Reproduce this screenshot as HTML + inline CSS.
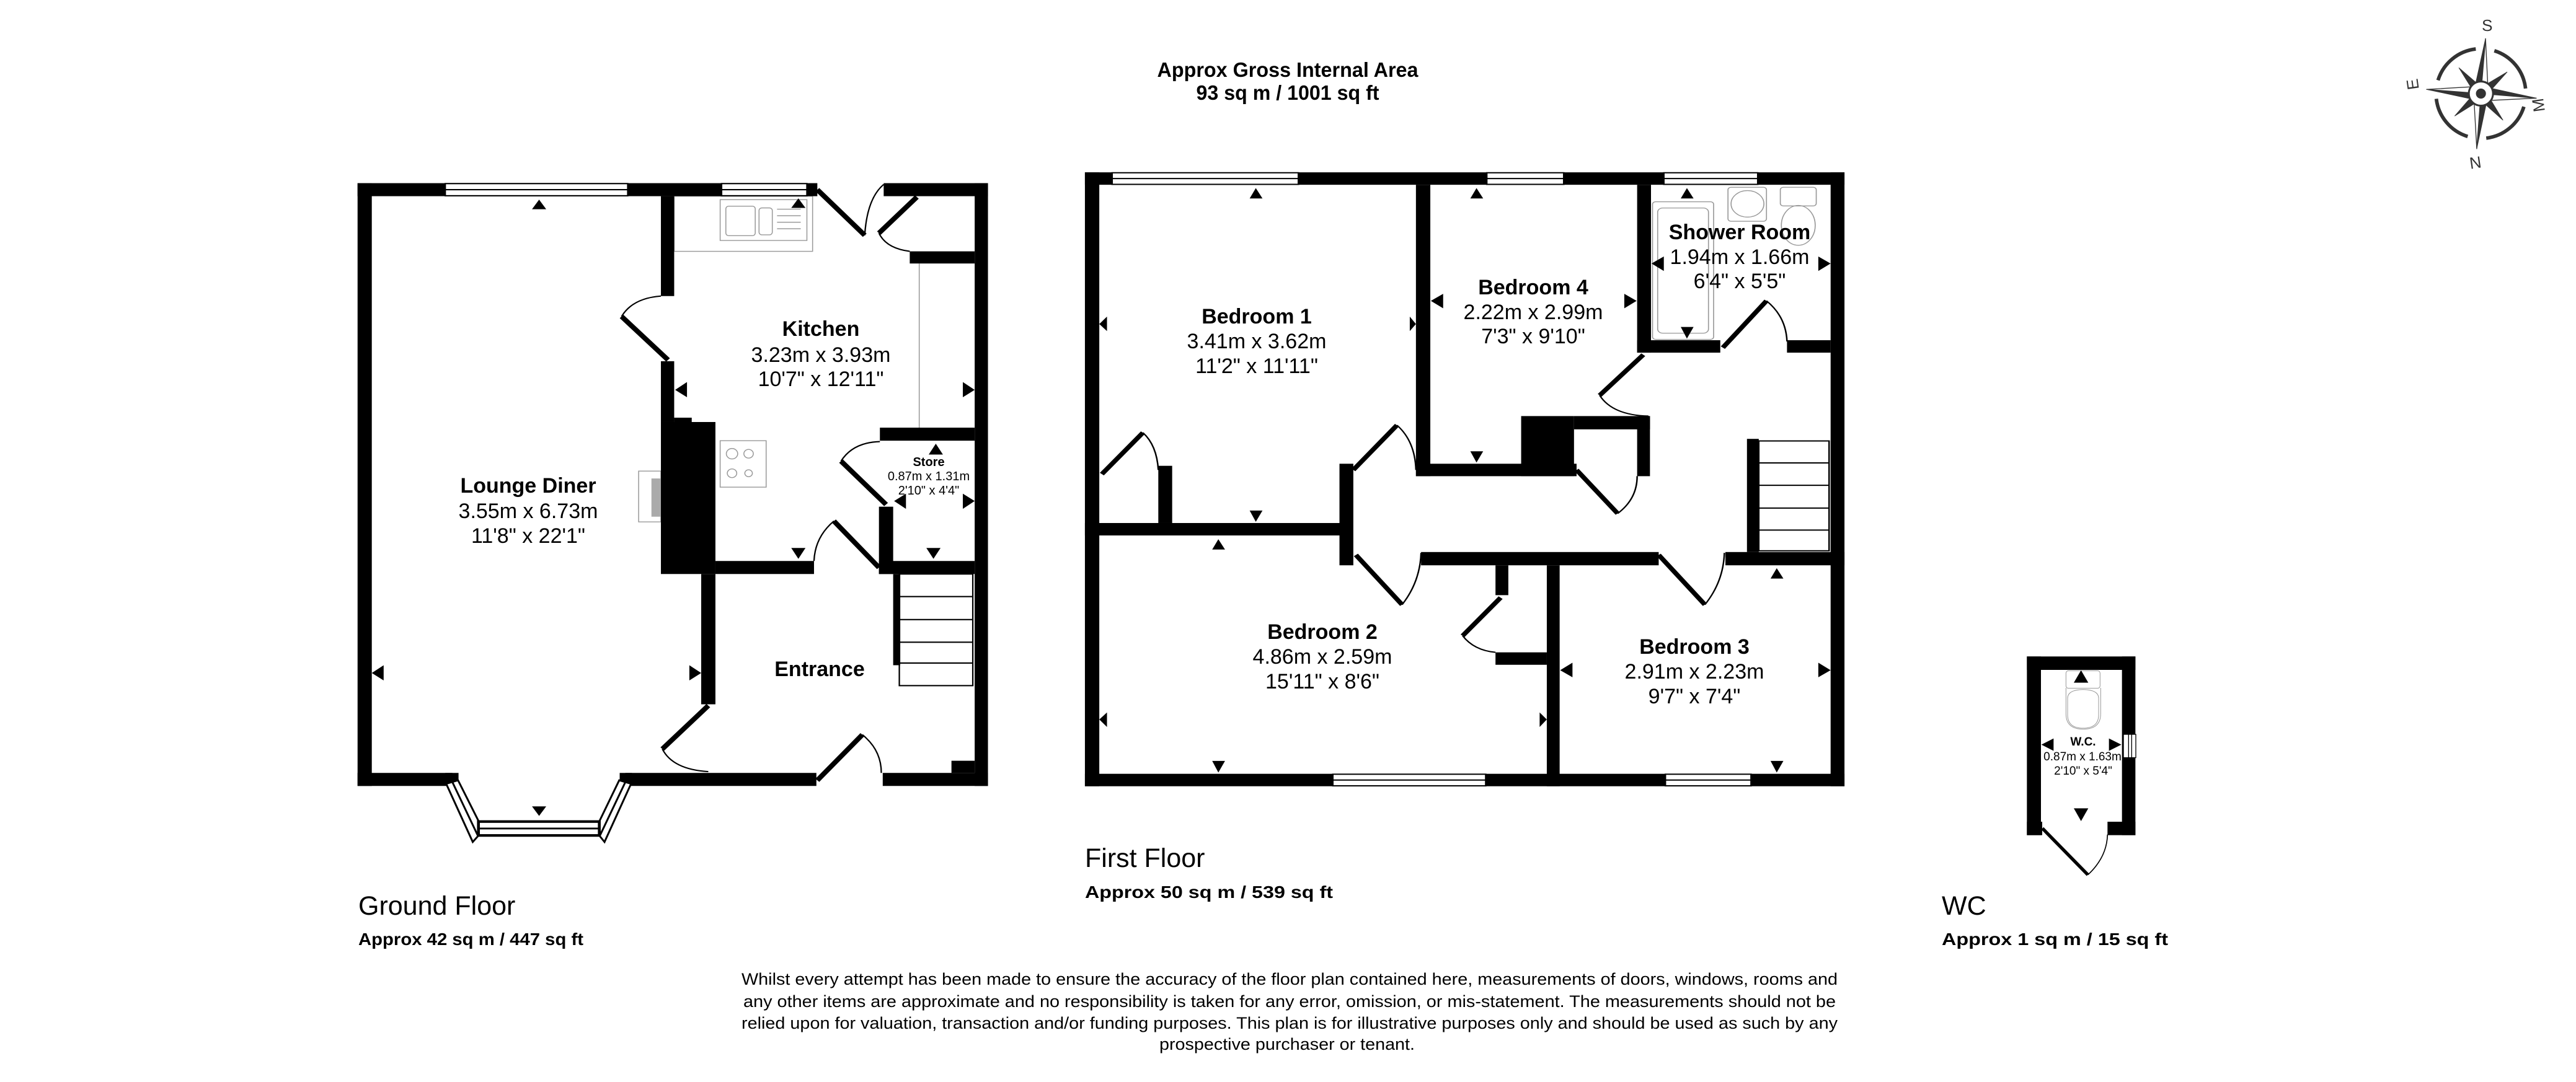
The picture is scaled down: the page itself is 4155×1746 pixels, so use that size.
<!DOCTYPE html>
<html><head><meta charset="utf-8"><style>
html,body{margin:0;padding:0;background:#fff;}
svg{display:block;}
text{font-family:"Liberation Sans",Arial,sans-serif;fill:#000;}
.b{font-weight:bold;}
</style></head><body>
<svg width="4155" height="1746" viewBox="0 0 4155 1746" xmlns="http://www.w3.org/2000/svg">
<rect width="4155" height="1746" fill="#fff"/>

<!-- GROUND FLOOR (zoom1 coords) -->
<g transform="translate(550,250) scale(0.7645,0.7008)">
 <!-- fixtures -->
 <g fill="none" stroke="#999" stroke-width="2">
  <rect x="703" y="95" width="292" height="127"/>
  <line x1="1220" y1="250" x2="1220" y2="628"/>
  <rect x="800" y="103" width="183" height="94"/>
  <rect x="812" y="118" width="62" height="68" rx="6"/>
  <rect x="882" y="122" width="28" height="62" rx="6"/>
  <line x1="920" y1="125" x2="970" y2="125"/><line x1="920" y1="140" x2="970" y2="140"/><line x1="920" y1="155" x2="970" y2="155"/><line x1="920" y1="170" x2="970" y2="170"/>
  <rect x="800" y="658" width="97" height="107"/>
  <circle cx="825" cy="688" r="12"/><circle cx="860" cy="688" r="10"/><circle cx="825" cy="733" r="10"/><circle cx="860" cy="733" r="8"/>
  <rect x="628" y="728" width="47" height="117"/>
 </g>
 <rect x="655" y="745" width="20" height="88" fill="#aaa"/>
 <!-- walls -->
 <g fill="#000">
  <rect x="35" y="65" width="185" height="30"/>
  <rect x="605" y="65" width="198" height="30"/>
  <rect x="983" y="65" width="22" height="30"/>
  <rect x="1145" y="65" width="220" height="30"/>
  <rect x="35" y="65" width="30" height="1388"/>
  <rect x="1337" y="65" width="28" height="1388"/>
  <rect x="35" y="1423" width="200" height="30"/>
  <rect x="600" y="1423" width="403" height="30"/>
  <rect x="1143" y="1423" width="222" height="30"/>
  <rect x="1288" y="1395" width="49" height="28"/>
  <rect x="675" y="95" width="28" height="230"/>
  <rect x="675" y="475" width="28" height="140"/>
  <rect x="675" y="615" width="115" height="350"/>
  <rect x="703" y="605" width="37" height="12"/>
  <rect x="760" y="965" width="30" height="300"/>
  <rect x="790" y="935" width="208" height="30"/>
  <rect x="1135" y="810" width="30" height="155"/>
  <rect x="1135" y="935" width="202" height="30"/>
  <rect x="1137" y="628" width="200" height="30"/>
  <rect x="1200" y="222" width="137" height="28"/>
  <rect x="1165" y="965" width="15" height="210"/>
 </g>
 <!-- windows -->
 <g fill="#fff" stroke="#000" stroke-width="3">
  <rect x="220" y="66" width="385" height="28"/><line x1="220" y1="80" x2="605" y2="80"/>
  <rect x="803" y="66" width="180" height="28"/><line x1="803" y1="80" x2="983" y2="80"/>
 </g>
 <!-- stairs -->
 <g fill="none" stroke="#000" stroke-width="3">
  <rect x="1178" y="965" width="155" height="257"/>
  <line x1="1178" y1="1017" x2="1333" y2="1017"/><line x1="1178" y1="1070" x2="1333" y2="1070"/>
  <line x1="1178" y1="1122" x2="1333" y2="1122"/><line x1="1178" y1="1170" x2="1333" y2="1170"/>
 </g>
 <!-- bay -->
 <polygon points="220,1423 248,1423 248,1453 235,1453" fill="#000"/>
 <polygon points="614,1423 588,1423 588,1453 600,1453" fill="#000"/>
 <g fill="#fff" stroke="#000" stroke-width="4">
  <polygon points="222,1448 247,1440 300,1555 278,1582"/>
  <line x1="235" y1="1444" x2="289" y2="1568"/>
  <polygon points="612,1448 587,1440 536,1555 556,1582"/>
  <line x1="600" y1="1444" x2="546" y2="1568"/>
  <rect x="290" y="1535" width="255" height="32" stroke-width="6"/>
  <line x1="290" y1="1551" x2="545" y2="1551"/>
 </g>
 <!-- doors -->
 <g stroke="#000" stroke-width="11" stroke-linecap="butt">
  <line x1="690" y1="472" x2="592" y2="372"/>
  <line x1="1005" y1="80" x2="1105" y2="185"/>
  <line x1="1215" y1="97" x2="1135" y2="180"/>
  <line x1="1040" y1="843" x2="1135" y2="950"/>
  <line x1="1055" y1="705" x2="1150" y2="805"/>
  <line x1="775" y1="1268" x2="678" y2="1368"/>
  <line x1="1005" y1="1440" x2="1100" y2="1335"/>
 </g>
 <g fill="none" stroke="#000" stroke-width="3">
  <path d="M592 372 Q615 330 675 325"/>
  <path d="M1105 185 Q1110 100 1145 68"/>
  <path d="M1135 180 Q1150 215 1200 222"/>
  <path d="M1040 843 Q1000 880 998 935"/>
  <path d="M1055 705 Q1080 662 1137 660"/>
  <path d="M678 1368 Q700 1415 775 1420"/>
  <path d="M1100 1335 Q1140 1370 1140 1423"/>
 </g>
 <!-- arrows -->
 <g fill="#000">
  <polygon points="403,125 433,125 418,103"/>
  <polygon points="403,1500 433,1500 418,1522"/>
  <polygon points="90,1175 90,1210 65,1193"/>
  <polygon points="735,1175 735,1210 760,1193"/>
  <polygon points="950,122 980,122 965,100"/>
  <polygon points="950,905 980,905 965,930"/>
  <polygon points="730,523 730,558 705,541"/>
  <polygon points="1312,523 1312,558 1337,541"/>
  <polygon points="1240,690 1270,690 1255,665"/>
  <polygon points="1235,905 1265,905 1250,930"/>
  <polygon points="1192,780 1192,815 1167,797"/>
  <polygon points="1312,780 1312,815 1337,797"/>
 </g>
</g>

<!-- FIRST FLOOR (zoom2 coords) -->
<g transform="translate(1740,250) scale(0.8278,0.6689)">
 <g fill="none" stroke="#999" stroke-width="2">
  <rect x="1118" y="113" width="119" height="332" rx="6"/>
  <rect x="1128" y="128" width="99" height="302" rx="10"/>
  <rect x="1265" y="78" width="75" height="82" rx="6"/>
  <circle cx="1303" cy="118" r="32"/>
  <rect x="1367" y="78" width="70" height="45" rx="6"/>
  <ellipse cx="1402" cy="170" rx="33" ry="48"/>
 </g>
 <g fill="#000">
  <rect x="12" y="42" width="53" height="30"/>
  <rect x="428" y="42" width="367" height="30"/>
  <rect x="945" y="42" width="195" height="30"/>
  <rect x="1323" y="42" width="169" height="30"/>
  <rect x="12" y="42" width="28" height="1481"/>
  <rect x="1465" y="42" width="27" height="1481"/>
  <rect x="12" y="1493" width="483" height="30"/>
  <rect x="793" y="1493" width="350" height="30"/>
  <rect x="1310" y="1493" width="182" height="30"/>
  <rect x="657" y="72" width="28" height="703"/>
  <rect x="657" y="745" width="313" height="30"/>
  <rect x="862" y="630" width="103" height="145"/>
  <rect x="965" y="630" width="148" height="32"/>
  <rect x="1088" y="630" width="25" height="145"/>
  <rect x="1088" y="72" width="27" height="405"/>
  <rect x="1088" y="447" width="162" height="30"/>
  <rect x="1380" y="447" width="85" height="30"/>
  <rect x="12" y="888" width="518" height="30"/>
  <rect x="155" y="750" width="27" height="138"/>
  <rect x="508" y="745" width="27" height="245"/>
  <rect x="667" y="958" width="463" height="32"/>
  <rect x="1260" y="958" width="232" height="32"/>
  <rect x="912" y="990" width="25" height="533"/>
  <rect x="812" y="990" width="25" height="72"/>
  <rect x="812" y="1200" width="100" height="30"/>
  <rect x="1302" y="685" width="23" height="273"/>
 </g>
 <g fill="#fff" stroke="#000" stroke-width="3">
  <rect x="65" y="43" width="363" height="28"/><line x1="65" y1="57" x2="428" y2="57"/>
  <rect x="795" y="43" width="150" height="28"/><line x1="795" y1="57" x2="945" y2="57"/>
  <rect x="1140" y="43" width="183" height="28"/><line x1="1140" y1="57" x2="1323" y2="57"/>
  <rect x="495" y="1494" width="298" height="28"/><line x1="495" y1="1508" x2="793" y2="1508"/>
  <rect x="1143" y="1494" width="167" height="28"/><line x1="1143" y1="1508" x2="1310" y2="1508"/>
 </g>
 <g fill="none" stroke="#000" stroke-width="3">
  <rect x="1325" y="690" width="137" height="265"/>
  <line x1="1325" y1="743" x2="1462" y2="743"/><line x1="1325" y1="797" x2="1462" y2="797"/>
  <line x1="1325" y1="852" x2="1462" y2="852"/><line x1="1325" y1="905" x2="1462" y2="905"/>
 </g>
 <g stroke="#000" stroke-width="10">
  <line x1="1255" y1="465" x2="1340" y2="352"/>
  <line x1="1100" y1="482" x2="1015" y2="580"/>
  <line x1="970" y1="760" x2="1050" y2="865"/>
  <line x1="45" y1="770" x2="125" y2="670"/>
  <line x1="535" y1="760" x2="620" y2="652"/>
  <line x1="540" y1="965" x2="630" y2="1085"/>
  <line x1="1130" y1="965" x2="1220" y2="1085"/>
  <line x1="822" y1="1068" x2="748" y2="1160"/>
 </g>
 <g fill="none" stroke="#000" stroke-width="3">
  <path d="M1340 352 Q1378 390 1380 450"/>
  <path d="M1015 580 Q1040 628 1110 630"/>
  <path d="M1050 865 Q1088 830 1088 775"/>
  <path d="M125 670 Q152 700 155 760"/>
  <path d="M620 652 Q655 690 657 760"/>
  <path d="M630 1085 Q665 1030 667 960"/>
  <path d="M1220 1085 Q1256 1030 1258 960"/>
  <path d="M748 1160 Q770 1195 812 1200"/>
 </g>
 <g fill="#000">
  <polygon points="333,105 358,105 345,80"/>
  <polygon points="55,390 55,425 40,408"/>
  <polygon points="645,390 645,425 657,408"/>
  <polygon points="333,858 358,858 345,885"/>
  <polygon points="260,952 285,952 272,927"/>
  <polygon points="55,1345 55,1380 40,1362"/>
  <polygon points="898,1345 898,1380 912,1362"/>
  <polygon points="260,1462 285,1462 272,1490"/>
  <polygon points="763,105 788,105 775,80"/>
  <polygon points="710,335 710,370 686,352"/>
  <polygon points="1063,335 1063,370 1087,352"/>
  <polygon points="763,715 788,715 775,742"/>
  <polygon points="1173,105 1198,105 1185,80"/>
  <polygon points="1140,245 1140,280 1116,262"/>
  <polygon points="1441,245 1441,280 1465,262"/>
  <polygon points="1173,415 1198,415 1185,443"/>
  <polygon points="1348,1022 1373,1022 1360,997"/>
  <polygon points="962,1225 962,1260 938,1243"/>
  <polygon points="1441,1225 1441,1260 1465,1243"/>
  <polygon points="1348,1462 1373,1462 1360,1490"/>
 </g>
</g>

<!-- WC (zoom3 coords) -->
<g transform="translate(3100,1000) scale(0.33333)">
 <g fill="none" stroke="#999" stroke-width="3">
  <rect x="697" y="247" width="165" height="85" rx="12"/>
  <path d="M705 380 Q705 340 780 338 Q855 340 855 380 L855 460 Q855 525 780 525 Q705 525 705 460 Z"/>
  <path d="M697 330 L697 455 Q697 530 780 530 Q865 530 865 455 L865 330"/>
 </g>
 <g fill="#000">
  <rect x="508" y="178" width="525" height="65"/>
  <rect x="508" y="178" width="68" height="865"/>
  <rect x="968" y="178" width="65" height="865"/>
  <rect x="508" y="978" width="74" height="65"/>
  <rect x="898" y="978" width="135" height="65"/>
 </g>
 <rect x="975" y="555" width="60" height="113" fill="#fff" stroke="#000" stroke-width="4"/>
 <line x1="1000" y1="555" x2="1000" y2="668" stroke="#000" stroke-width="4"/>
 <line x1="1015" y1="555" x2="1015" y2="668" stroke="#000" stroke-width="4"/>
 <line x1="583" y1="1010" x2="803" y2="1235" stroke="#000" stroke-width="16"/>
 <path d="M803 1235 Q895 1150 898 1040" fill="none" stroke="#000" stroke-width="5"/>
 <g fill="#000">
  <polygon points="735,305 805,305 770,245"/>
  <polygon points="637,575 637,635 578,605"/>
  <polygon points="905,575 905,635 965,605"/>
  <polygon points="735,913 805,913 770,975"/>
 </g>
</g>

<!-- Compass (zoom4 coords) -->
<g transform="translate(3850,0) scale(0.337)">
 <circle cx="450" cy="448" r="215" fill="none" stroke="#333" stroke-width="17" stroke-dasharray="248 90" stroke-dashoffset="-64"/>
 <g fill="#333" stroke="#333" stroke-width="3" stroke-linejoin="round">
  <polygon points="345,325 469,432 431,464"/>
  <polygon points="575,345 466,467 434,429"/>
  <polygon points="555,575 469,432 431,464"/>
  <polygon points="325,555 466,467 434,429"/>
  <polygon points="472,185 450,448 415,445"/>
  <polygon points="430,712 450,448 485,451"/>
  <polygon points="190,428 450,448 447,483"/>
  <polygon points="715,470 450,448 453,413"/>
 </g>
 <g fill="#fff" stroke="#333" stroke-width="4" stroke-linejoin="round">
  <polygon points="472,185 450,448 485,451"/>
  <polygon points="430,712 450,448 415,445"/>
  <polygon points="190,428 450,448 453,413"/>
  <polygon points="715,470 450,448 447,483"/>
 </g>
 <circle cx="450" cy="448" r="58" fill="#fff" stroke="#333" stroke-width="9"/>
 <circle cx="450" cy="448" r="24" fill="#333"/>
 <g font-size="78" fill="#333" text-anchor="middle">
  <text x="480" y="148" fill="#333" style="fill:#333">S</text>
  <text x="0" y="0" transform="translate(420,752) rotate(172)" style="fill:#333">N</text>
  <text x="0" y="0" transform="translate(150,400) rotate(-98)" style="fill:#333">E</text>
  <text x="0" y="0" transform="translate(752,500) rotate(-278) scale(1,-1) rotate(0)" style="fill:#333">M</text>
 </g>
</g>

<!-- Text -->
<text x="2077" y="124" class="b" font-size="33" text-anchor="middle" textLength="421" lengthAdjust="spacingAndGlyphs">Approx Gross Internal Area</text>
<text x="2077" y="161" class="b" font-size="33" text-anchor="middle" textLength="295" lengthAdjust="spacingAndGlyphs">93 sq m / 1001 sq ft</text>

<g text-anchor="middle" font-size="34">
 <text x="852" y="795" class="b">Lounge Diner</text>
 <text x="852" y="836">3.55m x 6.73m</text>
 <text x="852" y="876">11'8" x 22'1"</text>
 <text x="1324" y="542" class="b">Kitchen</text>
 <text x="1324" y="584">3.23m x 3.93m</text>
 <text x="1324" y="623">10'7" x 12'11"</text>
 <text x="1322" y="1091" class="b">Entrance</text>
 <text x="2027" y="522" class="b">Bedroom 1</text>
 <text x="2027" y="562">3.41m x 3.62m</text>
 <text x="2027" y="602">11'2" x 11'11"</text>
 <text x="2473" y="475" class="b">Bedroom 4</text>
 <text x="2473" y="515">2.22m x 2.99m</text>
 <text x="2473" y="554">7'3" x 9'10"</text>
 <text x="2806" y="386" class="b">Shower Room</text>
 <text x="2806" y="426">1.94m x 1.66m</text>
 <text x="2806" y="465">6'4" x 5'5"</text>
 <text x="2133" y="1031" class="b">Bedroom 2</text>
 <text x="2133" y="1071">4.86m x 2.59m</text>
 <text x="2133" y="1111">15'11" x 8'6"</text>
 <text x="2733" y="1055" class="b">Bedroom 3</text>
 <text x="2733" y="1095">2.91m x 2.23m</text>
 <text x="2733" y="1135">9'7" x 7'4"</text>
</g>
<g text-anchor="middle" font-size="20">
 <text x="1498" y="752" class="b">Store</text>
 <text x="1498" y="775">0.87m x 1.31m</text>
 <text x="1498" y="798">2'10" x 4'4"</text>
 <text x="3360" y="203" class="b" transform="translate(0,1000)" font-size="19">W.C.</text>
 <text x="3359" y="1227" font-size="19">0.87m x 1.63m</text>
 <text x="3360" y="1250" font-size="19">2'10" x 5'4"</text>
</g>

<text x="578" y="1476" font-size="43">Ground Floor</text>
<text x="578" y="1525" class="b" font-size="28" textLength="363" lengthAdjust="spacingAndGlyphs">Approx 42 sq m / 447 sq ft</text>
<text x="1750" y="1399" font-size="43">First Floor</text>
<text x="1750" y="1449" class="b" font-size="28" textLength="400" lengthAdjust="spacingAndGlyphs">Approx 50 sq m / 539 sq ft</text>
<text x="3132" y="1476" font-size="43">WC</text>
<text x="3132" y="1525" class="b" font-size="28" textLength="365" lengthAdjust="spacingAndGlyphs">Approx 1 sq m / 15 sq ft</text>

<g font-size="27" text-anchor="middle">
 <text x="2080" y="1589" textLength="1768" lengthAdjust="spacingAndGlyphs">Whilst every attempt has been made to ensure the accuracy of the floor plan contained here, measurements of doors, windows, rooms and</text>
 <text x="2080" y="1625" textLength="1762" lengthAdjust="spacingAndGlyphs">any other items are approximate and no responsibility is taken for any error, omission, or mis-statement. The measurements should not be</text>
 <text x="2080" y="1660" textLength="1768" lengthAdjust="spacingAndGlyphs">relied upon for valuation, transaction and/or funding purposes. This plan is for illustrative purposes only and should be used as such by any</text>
 <text x="2076" y="1694" textLength="412" lengthAdjust="spacingAndGlyphs">prospective purchaser or tenant.</text>
</g>
</svg>
</body></html>
